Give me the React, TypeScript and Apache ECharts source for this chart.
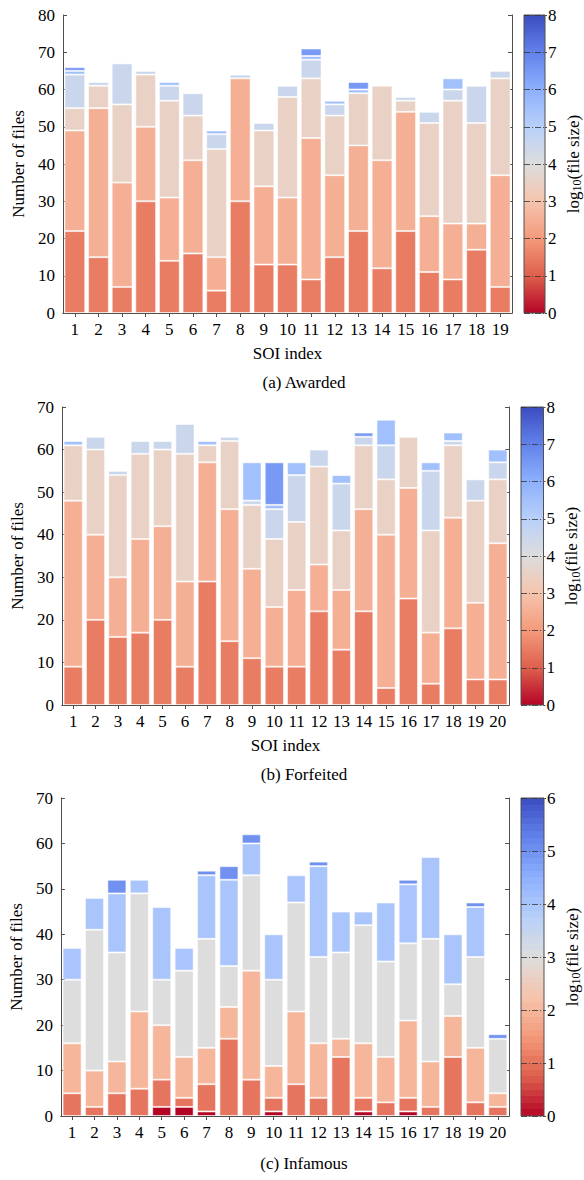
import React, { useEffect, useRef } from "react";
import * as echarts from "echarts";

// SOI index categories
const soiA = ["1","2","3","4","5","6","7","8","9","10","11","12","13","14","15","16","17","18","19"];
const soiB = ["1","2","3","4","5","6","7","8","9","10","11","12","13","14","15","16","17","18","19","20"];
const soiC = ["1","2","3","4","5","6","7","8","9","10","11","12","13","14","15","16","17","18","19","20"];

// (a) Awarded: number of files per log10(file size) bin
const awarded12 = [22,15,7,30,14,16,6,30,13,13,9,15,22,12,22,11,9,17,7];
const awarded23 = [27,40,28,20,17,25,9,33,21,18,38,22,23,29,32,15,15,7,30];
const awarded34 = [6,6,21,14,26,12,29,0,15,27,16,16,14,20,3,25,33,27,26];
const awarded45 = [9,1,11,1,4,6,4,1,2,3,5,3,0,0,1,3,3,10,2];
const awarded56 = [1,0,0,0,1,0,1,0,0,0,1,1,1,0,0,0,3,0,0];
const awarded67 = [1,0,0,0,0,0,0,0,0,0,2,0,2,0,0,0,0,0,0];

// (b) Forfeited
const forf12 = [9,20,16,17,20,9,29,15,11,9,9,22,13,22,4,25,5,18,6,6];
const forf23 = [39,20,14,22,22,20,28,31,21,14,18,11,14,24,36,26,12,26,18,32];
const forf34 = [13,20,24,20,18,30,4,16,15,16,16,23,14,15,13,12,24,17,24,15];
const forf45 = [0,3,1,3,2,7,0,1,1,7,11,4,11,2,8,0,14,1,5,4];
const forf56 = [1,0,0,0,0,0,1,0,9,1,3,0,2,0,6,0,2,2,0,3];
const forf67 = [0,0,0,0,0,0,0,0,0,10,0,0,0,1,0,0,0,0,0,0];

// (c) Infamous
const inf01 = [0,0,0,0,2,2,1,0,0,1,0,0,0,1,0,1,0,0,0,0];
const inf12 = [5,2,5,6,6,2,6,17,8,3,7,4,13,3,3,3,2,13,3,2];
const inf23 = [11,8,7,17,12,9,8,7,24,7,16,12,4,12,10,17,10,9,12,3];
const inf34 = [14,31,24,26,10,19,24,9,21,19,24,19,19,26,21,17,27,7,20,12];
const inf45 = [7,7,13,3,16,5,14,19,7,10,6,20,9,3,13,13,18,11,11,0];
const inf56 = [0,0,3,0,0,0,1,3,2,0,0,1,0,0,0,1,0,0,1,1];

const yTicksA = { min: 0, max: 80, interval: 10 };
const yTicksB = { min: 0, max: 70, interval: 10 };
const yTicksC = { min: 0, max: 70, interval: 10 };
const cbarA = { min: 0, max: 8 };
const cbarB = { min: 0, max: 8 };
const cbarC = { min: 0, max: 6 };

const colorsAB = ["#e97d64", "#f5af94", "#e9d1c6", "#cad6eb", "#a2c0fb", "#7899f4"];
const colorsC = ["#b40426", "#e5755e", "#f5b69b", "#dddddd", "#aac5fb", "#7091ef"];

const FONT = "'Liberation Serif', 'Times New Roman', serif";
const AXIS = "#505050";
const FS = 17;

const CW = [
  [59, 76, 192], [98, 130, 234], [141, 176, 254], [184, 208, 249], [221, 221, 221],
  [245, 196, 173], [244, 154, 123], [222, 96, 77], [180, 4, 38],
];
function coolwarm(t: number) {
  const x = Math.max(0, Math.min(1, t)) * 8;
  const i = Math.min(7, Math.floor(x));
  const f = x - i;
  const a = CW[i], b = CW[i + 1];
  const c = a.map((v, k) => Math.round(v + (b[k] - v) * f));
  return `rgb(${c[0]},${c[1]},${c[2]})`;
}
function gradient(banded: boolean, bands: number) {
  const stops: any[] = [];
  if (!banded) {
    for (let k = 0; k <= 8; k++) stops.push({ offset: k / 8, color: coolwarm(k / 8) });
  } else {
    for (let k = 0; k < bands; k++) {
      const c = coolwarm((k + 0.5) / bands);
      stops.push({ offset: k / bands, color: c });
      stops.push({ offset: (k + 1) / bands, color: c });
    }
  }
  return { type: "linear", x: 0, y: 0, x2: 0, y2: 1, colorStops: stops };
}

const panels = [
  {
    cats: soiA, y: yTicksA, cb: cbarA, banded: false,
    bins: [awarded12, awarded23, awarded34, awarded45, awarded56, awarded67], colors: colorsAB,
    grid: { left: 63, top: 15, width: 449, height: 298 },
    cgrid: { left: 524, top: 15, width: 23, height: 298 },
    xName: "SOI index", gap: "12%", caption: "(a) Awarded", capY: 382,
  },
  {
    cats: soiB, y: yTicksB, cb: cbarB, banded: false,
    bins: [forf12, forf23, forf34, forf45, forf56, forf67], colors: colorsAB,
    grid: { left: 62, top: 407, width: 447, height: 298 },
    cgrid: { left: 521, top: 407, width: 22.5, height: 298 },
    xName: "SOI index", gap: "14%", caption: "(b) Forfeited", capY: 774,
  },
  {
    cats: soiC, y: yTicksC, cb: cbarC, banded: true,
    bins: [inf01, inf12, inf23, inf34, inf45, inf56], colors: colorsC,
    grid: { left: 59, top: 798, width: 450, height: 318 },
    cgrid: { left: 521, top: 798, width: 23, height: 318 },
    xName: "", gap: "15%", caption: "(c) Infamous", capY: 1163,
  },
];

function buildOption() {
  const grid: any[] = [];
  const xAxis: any[] = [];
  const yAxis: any[] = [];
  const series: any[] = [];
  const graphic: any[] = [];
  const lineStyle = { color: AXIS, width: 1 };
  const txt = { color: "#000", fontFamily: FONT, fontSize: FS };

  panels.forEach((p, i) => {
    grid.push({ ...p.grid, containLabel: false });
    grid.push({ ...p.cgrid, containLabel: false, show: true, borderColor: AXIS, borderWidth: 1 });
    const gP = 2 * i, gC = 2 * i + 1;
    const xb = xAxis.length;
    xAxis.push({
      type: "category", gridIndex: gP, data: p.cats, position: "bottom",
      axisLine: { show: true, lineStyle }, axisTick: { show: false },
      axisLabel: { ...txt, margin: 8, interval: 0 },
      name: p.xName, nameLocation: "middle", nameGap: 32, nameTextStyle: txt,
    });
    xAxis.push({
      type: "category", gridIndex: gP, data: p.cats, position: "top",
      axisLine: { show: true, lineStyle },
      axisTick: { show: true, inside: true, length: 4, alignWithLabel: true, lineStyle },
      axisLabel: { show: false },
    });
    xAxis.push({ type: "category", gridIndex: gC, data: [""], show: false });
    const yb = yAxis.length;
    yAxis.push({
      type: "value", gridIndex: gP, position: "left", ...p.y,
      axisLine: { show: true, lineStyle },
      axisTick: { show: true, inside: true, length: 4, lineStyle },
      axisLabel: { ...txt, margin: 8 }, splitLine: { show: false },
      name: "Number of files", nameLocation: "middle", nameGap: 28, nameRotate: 90, nameTextStyle: txt,
    });
    yAxis.push({
      type: "value", gridIndex: gP, position: "right", ...p.y,
      axisLine: { show: true, lineStyle },
      axisTick: { show: true, inside: true, length: 4, lineStyle },
      axisLabel: { show: false }, splitLine: { show: false },
    });
    yAxis.push({
      type: "value", gridIndex: gC, position: "right", min: p.cb.min, max: p.cb.max, interval: 1,
      axisLine: { show: false },
      axisTick: { show: true, inside: false, length: 2, lineStyle },
      axisLabel: { ...txt, margin: 3 },
      splitLine: { show: true, lineStyle: { color: "#333", width: 0.8, type: [6, 2, 1, 2] } },
      name: "{b|log}{s|10}{b|(file size)}", nameLocation: "middle", nameRotate: 90, nameGap: 18,
      nameTextStyle: {
        ...txt,
        rich: {
          b: { fontFamily: FONT, fontSize: FS, color: "#000" },
          s: { fontFamily: FONT, fontSize: 12, color: "#000", padding: [8, 0, 0, 0] },
        },
      },
    });

    p.bins.forEach((vals, b) => {
      series.push({
        type: "bar", stack: "panel" + i, xAxisIndex: xb, yAxisIndex: yb,
        data: vals.map((v) => (v === 0 ? "-" : v)),
        barCategoryGap: p.gap,
        itemStyle: { color: p.colors[b], borderColor: "rgba(255,255,255,0.55)", borderWidth: 1 },
        silent: true,
      });
    });
    series.push({
      type: "bar", xAxisIndex: xb + 2, yAxisIndex: yb + 2, data: [p.cb.max],
      barWidth: "100%", z: -1, silent: true,
      itemStyle: { color: gradient(p.banded, p.cb.max * 8) },
    });

    graphic.push({
      type: "text", x: 304, y: p.capY,
      style: { text: p.caption, fill: "#000", font: `${FS}px ${FONT}`, textAlign: "center", textVerticalAlign: "middle" },
    });
  });

  return { animation: false, backgroundColor: "#fff", grid, xAxis, yAxis, series, graphic };
}

export default function App() {
  const ref = useRef<HTMLDivElement>(null);
  useEffect(() => {
    const chart = echarts.init(ref.current!, null, { renderer: "svg" });
    chart.setOption(buildOption() as any);
    return () => chart.dispose();
  }, []);
  return (
    <div
      ref={ref}
      style={{ position: "absolute", left: 0, top: 0, width: 584, height: 1180, background: "#fff" }}
    />
  );
}
